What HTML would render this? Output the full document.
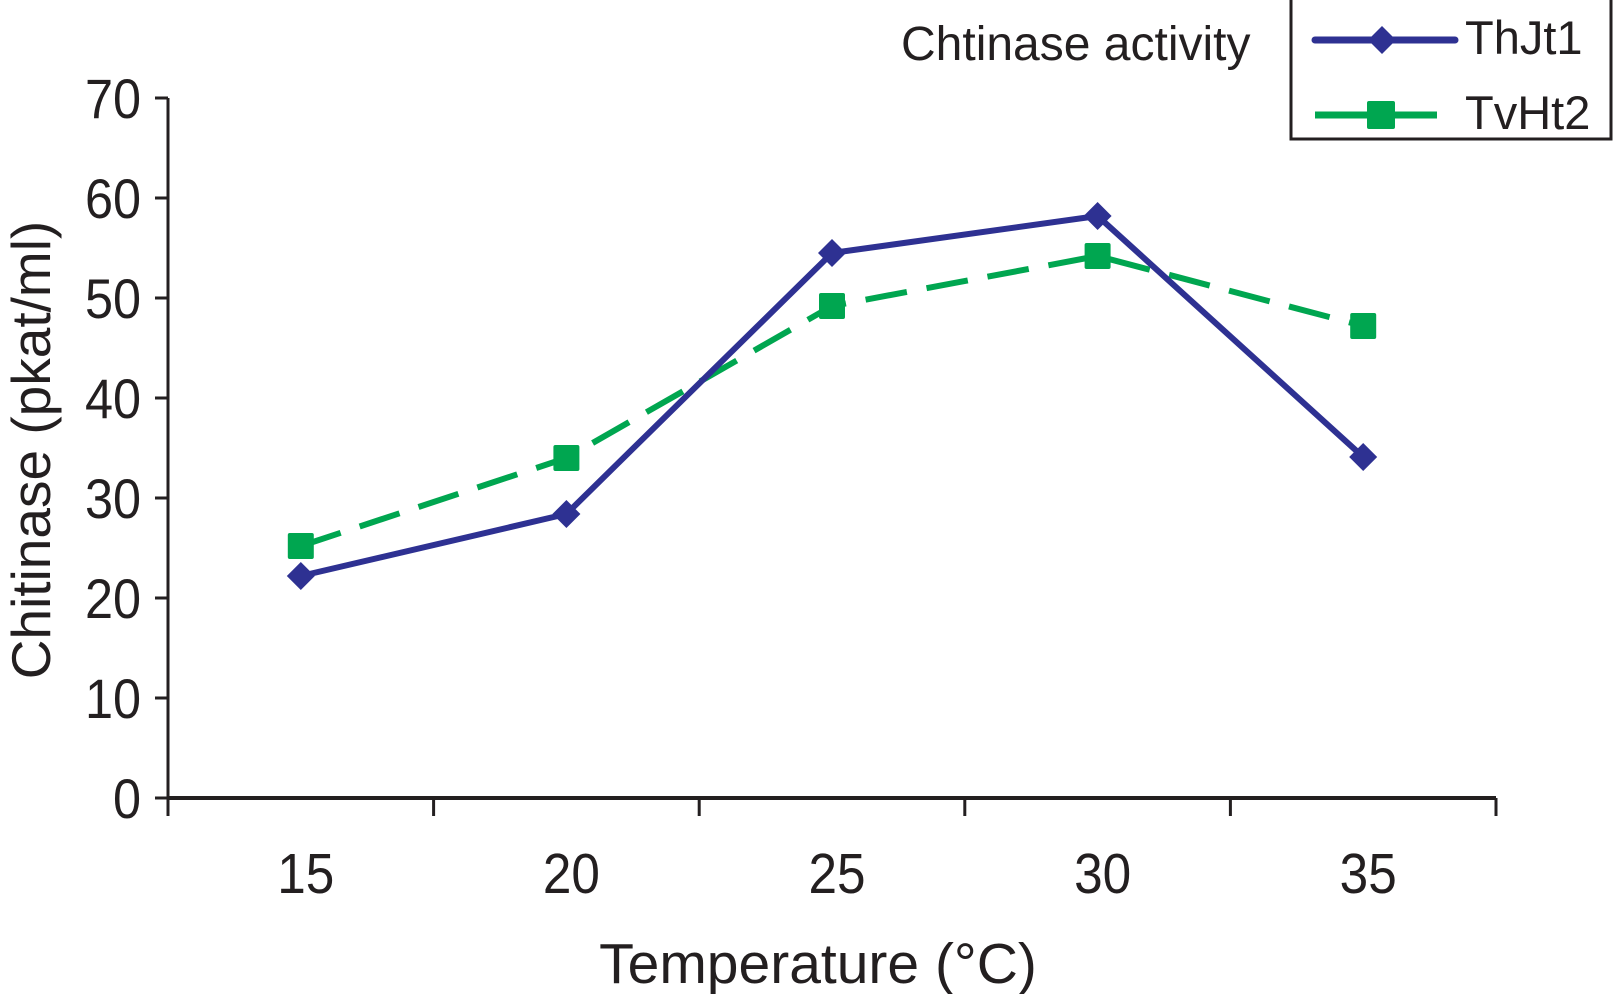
<!DOCTYPE html>
<html><head><meta charset="utf-8"><style>
html,body{margin:0;padding:0;background:#fff;}
svg{display:block;font-family:"Liberation Sans",sans-serif;}
</style></head><body>
<svg id="chart" width="1615" height="994" viewBox="0 0 1615 994" xmlns="http://www.w3.org/2000/svg">
<g id="axes"></g><g id="series"></g>
<text x="901" y="60" font-size="48" fill="#231f20">Chtinase activity</text>
<text transform="translate(50,450) rotate(-90)" text-anchor="middle" font-size="55" fill="#231f20">Chitinase (pkat/ml)</text>
<text x="818" y="983" text-anchor="middle" font-size="57" fill="#231f20">Temperature (°C)</text>
<g>
<rect x="1291" y="-2" width="320" height="141" fill="#fff" stroke="#231f20" stroke-width="3"/>
<g>
<line x1="1315" y1="40" x2="1455" y2="40" stroke="#2e3192" stroke-width="7" stroke-linecap="round"/>
<path d="M1382 26 L1396 40 L1382 54 L1368 40Z" fill="#2e3192"/>
<text x="1465" y="54" font-size="47" fill="#231f20">ThJt1</text></g>
<g>
<line x1="1315" y1="115" x2="1437" y2="115" stroke="#00a650" stroke-width="7"/>
<rect x="1367" y="101" width="28" height="28" rx="2" fill="#00a650"/>
<text x="1465" y="129" font-size="47" fill="#231f20">TvHt2</text></g>
</g>
</svg>
<script>
const categories=["15","20","25","30","35"];
const thjt1=[22.2,28.4,54.5,58.2,34.1];
const tvht2=[25.2,34.0,49.2,54.2,47.2];
const yTicks=[0,10,20,30,40,50,60,70];
const NS="http://www.w3.org/2000/svg";
const X0=168,X1=1496,Y0=798,Y1=98,YMAX=70;
const bw=(X1-X0)/categories.length;
function xs(i){return X0+bw*(i+0.5);}
function ys(v){return Y0-(v/YMAX)*(Y0-Y1);}
function mk(tag,attrs,parent){const e=document.createElementNS(NS,tag);for(const k in attrs)e.setAttribute(k,attrs[k]);parent.appendChild(e);return e;}
const axes=document.getElementById('axes'),ser=document.getElementById('series');
let e=mk('line',{x1:X0,y1:Y1,x2:X0,y2:Y0,stroke:'#231f20','stroke-width':3},axes);


e=mk('line',{x1:X0,y1:Y0,x2:X1,y2:Y0,stroke:'#231f20','stroke-width':4},axes);


yTicks.forEach(v=>{
 mk('line',{x1:X0-13,y1:ys(v),x2:X0,y2:ys(v),stroke:'#231f20','stroke-width':3},axes);
 const t=mk('text',{transform:`translate(${X0-27},${ys(v)+20}) scale(0.9,1)`,'text-anchor':'end','font-size':56,fill:'#231f20'},axes);
 t.textContent=v;
 
 
});
for(let i=0;i<=categories.length;i++){mk('line',{x1:X0+bw*i,y1:Y0,x2:X0+bw*i,y2:Y0+18,stroke:'#231f20','stroke-width':3},axes);}
categories.forEach((c,i)=>{
 const t=mk('text',{transform:`translate(${xs(i)+5},893) scale(0.9,1)`,'text-anchor':'middle','font-size':57,fill:'#231f20'},axes);
 t.textContent=c;
 
 
});
let p=mk('polyline',{points:tvht2.map((v,i)=>xs(i)+','+ys(v)).join(' '),fill:'none',stroke:'#00a650','stroke-width':6,'stroke-dasharray':'42 20'},ser);


p=mk('polyline',{points:thjt1.map((v,i)=>xs(i)+','+ys(v)).join(' '),fill:'none',stroke:'#2e3192','stroke-width':6,'stroke-linejoin':'round'},ser);


tvht2.forEach((v,i)=>{
 const r=mk('rect',{x:xs(i)-13,y:ys(v)-13,width:26,height:26,rx:2,fill:'#00a650'},ser);
 
 
});
thjt1.forEach((v,i)=>{
 const x=xs(i),y=ys(v);
 const d=mk('path',{d:`M${x} ${y-14}L${x+14} ${y}L${x} ${y+14}L${x-14} ${y}Z`,fill:'#2e3192'},ser);
 
 
});
</script>
</body></html>
